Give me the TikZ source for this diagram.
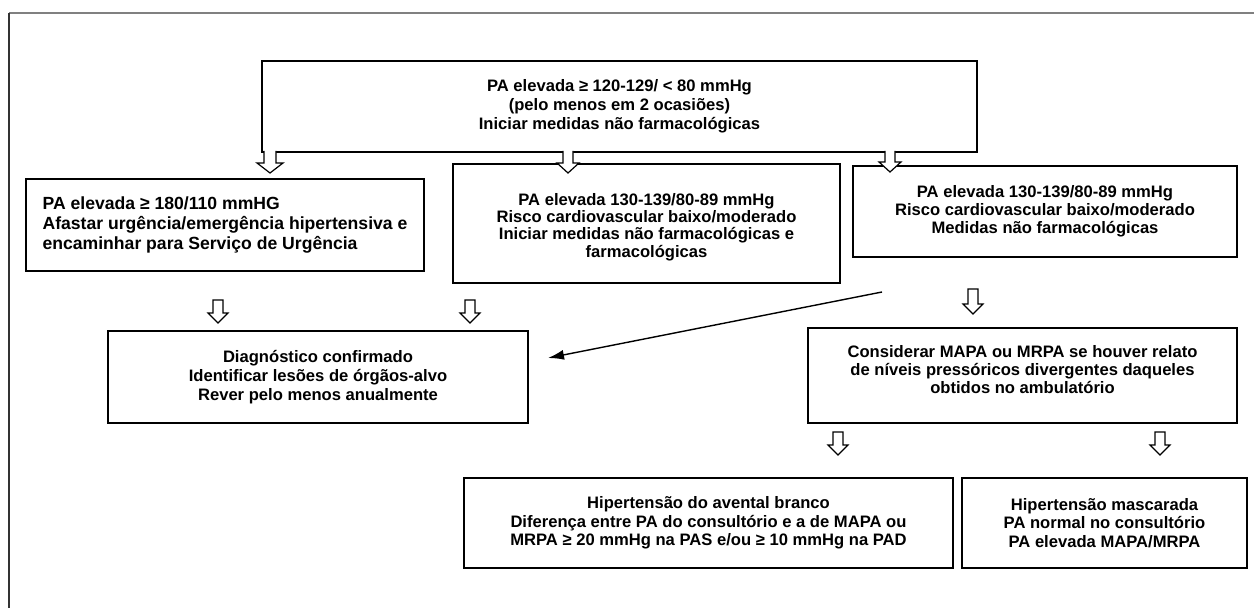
\documentclass[tikz,border=0pt]{standalone}
\usepackage{fontspec}
\setmainfont{Liberation Sans}
\usetikzlibrary{arrows.meta}
\newcommand\blockarrowopen[5]{%
  \fill[white] ({#1-#4},{#2-2}) -- ({#1-#4},{#3-10}) -- ({#1-#5},{#3-10}) -- (#1,#3) -- ({#1+#5},{#3-10}) -- ({#1+#4},{#3-10}) -- ({#1+#4},{#2-2}) -- cycle;
  \draw[hollow] ({#1-#4},{#2-1}) -- ({#1-#4},{#3-10}) -- ({#1-#5},{#3-10}) -- (#1,#3) -- ({#1+#5},{#3-10}) -- ({#1+#4},{#3-10}) -- ({#1+#4},{#2-1});
}
\newcommand\blockarrowclosed[5]{%
  \draw[hollow, fill=white] ({#1-#4},#2) -- ({#1-#4},{#3-10}) -- ({#1-#5},{#3-10}) -- (#1,#3) -- ({#1+#5},{#3-10}) -- ({#1+#4},{#3-10}) -- ({#1+#4},#2) -- cycle;
}
\begin{document}
\begin{tikzpicture}[x=0.5pt,y=-0.5pt,
  box/.style={draw=black, line width=0.8pt, fill=white, inner sep=0pt, align=center},
  txt/.style={font=\fontsize{8.3}{#1}\selectfont\bfseries},
  plaintxt/.style={inner sep=0pt, align=center},
  hollow/.style={draw=black, line width=0.6pt, line join=miter},
  frametop/.style={draw=black!50, line width=0.8pt},
  frameleft/.style={draw=black!80, line width=0.8pt},
  thinarrow/.style={line width=0.7pt, -{Latex[length=8pt,width=5pt]}}
]
\useasboundingbox (0,0) rectangle (1254,608);
% frame
\coordinate (fTL) at (9,13);
\coordinate (fTR) at (1254,13);
\coordinate (fBL) at (9,608);
\draw[frametop] (fTL) -- (fTR);
\draw[frameleft] (fTL) -- (fBL);

% boxes
\node[box, txt=9.5pt, minimum width=357.5pt, minimum height=45.5pt] (T) at (619.5,106.5)
  {PA elevada ≥ 120-129/ < 80 mmHg\\(pelo menos em 2 ocasiões)\\Iniciar medidas não farmacológicas};
\node[box, align=left, font=\fontsize{8.8}{9.9pt}\selectfont\bfseries, minimum width=199pt, minimum height=46pt] (B1) at (225,225)
  {PA elevada ≥ 180/110 mmHG\\Afastar urgência/emergência hipertensiva e\\encaminhar para Serviço de Urgência};
\node[box, minimum width=193.5pt, minimum height=59.5pt] (B2) at (646.5,223.5) {};
\node[plaintxt, txt=8.6pt] (B2t) at (646.5,227)
  {PA elevada 130-139/80-89 mmHg\\Risco cardiovascular baixo/moderado\\Iniciar medidas não farmacológicas e\\farmacológicas};
\node[box, txt=9pt, minimum width=192pt, minimum height=45.5pt] (B3) at (1045,211.5)
  {PA elevada 130-139/80-89 mmHg\\Risco cardiovascular baixo/moderado\\Medidas não farmacológicas};
\node[box, txt=9.4pt, minimum width=210pt, minimum height=46pt] (D) at (318,377)
  {Diagnóstico confirmado\\Identificar lesões de órgãos-alvo\\Rever pelo menos anualmente};
\node[box, minimum width=214.5pt, minimum height=47.5pt] (M) at (1022.5,375.5) {};
\node[plaintxt, txt=9pt] (Mt) at (1022.5,370)
  {Considerar MAPA ou MRPA se houver relato\\de níveis pressóricos divergentes daqueles\\obtidos no ambulatório};
\node[box, txt=9.3pt, minimum width=244.5pt, minimum height=45pt] (W) at (708.5,523)
  {Hipertensão do avental branco\\Diferença entre PA do consultório e a de MAPA ou\\MRPA ≥ 20 mmHg na PAS e/ou ≥ 10 mmHg na PAD};
\node[box, txt=9.3pt, minimum width=142.5pt, minimum height=45pt] (K) at (1104.5,523)
  {Hipertensão mascarada\\PA normal no consultório\\PA elevada MAPA/MRPA};

% hollow block arrows
\blockarrowopen{270}{152}{173}{6}{13}
\blockarrowopen{568}{152}{173}{5}{11}
\blockarrowopen{890}{152}{172}{5}{11}
\blockarrowclosed{218}{300}{323}{5}{10}
\blockarrowclosed{470}{300}{323}{5}{10}
\blockarrowclosed{973}{289}{314}{5}{10}
\blockarrowclosed{838}{432}{455}{5}{10}
\blockarrowclosed{1160}{432}{455}{5}{10}

% thin arrow
\coordinate (thinS) at (882,292);
\coordinate (thinE) at (548,358);
\draw[thinarrow] (thinS) -- (thinE);
\end{tikzpicture}
\end{document}
